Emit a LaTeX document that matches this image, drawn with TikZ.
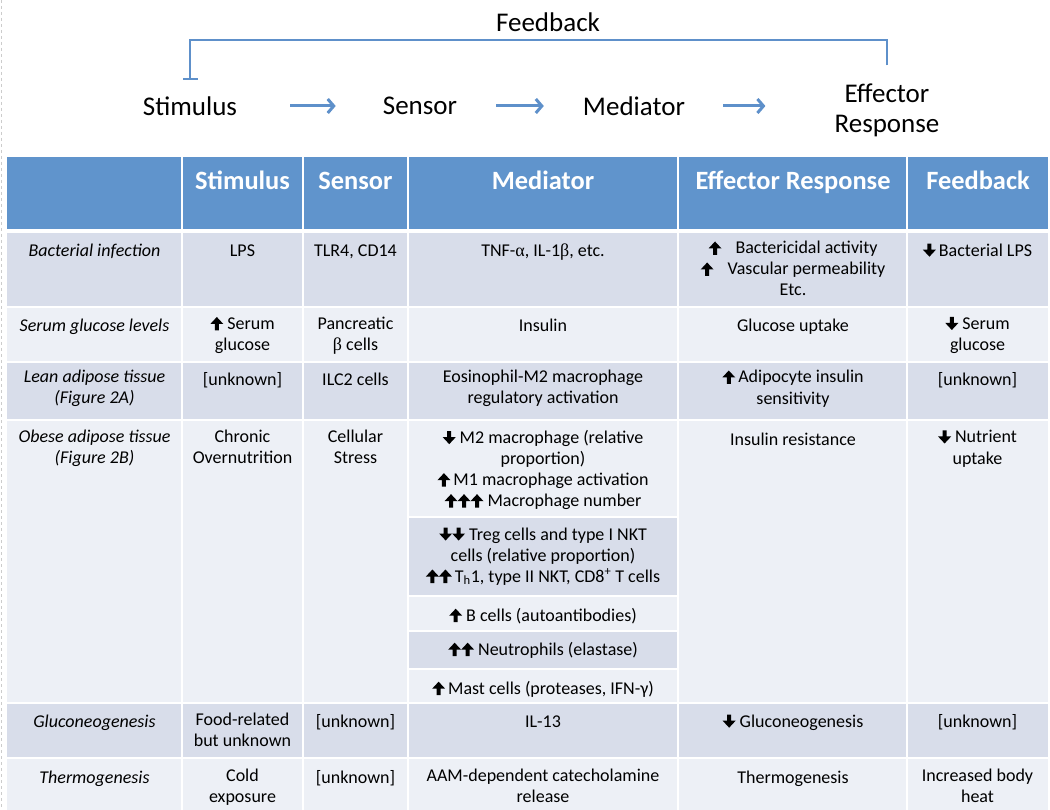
\documentclass[tikz,border=0pt]{standalone}
\usepackage{fontspec}
\setmainfont{Carlito}
\newfontfamily\grk{Liberation Serif}
\usetikzlibrary{arrows.meta}

\definecolor{headblue}{RGB}{96,148,204}
\definecolor{banddark}{RGB}{216,221,234}
\definecolor{bandlight}{RGB}{237,240,246}
\definecolor{flowblue}{RGB}{94,144,202}

% bold up / down arrows used inside the cells
\newcommand{\upa}{\tikz[x=1pt,y=1pt,baseline=0pt]\fill (-2,-1) rectangle (2,6) (-6.5,5.5) -- (0,12.5) -- (6.5,5.5) -- cycle;}
\newcommand{\dna}{\tikz[x=1pt,y=1pt,baseline=0pt]\fill (-2,12.5) rectangle (2,6) (-6.5,6.5) -- (0,-0.5) -- (6.5,6.5) -- cycle;}

\begin{document}
\begin{tikzpicture}[x=1pt, y=-1pt, every node/.style={inner sep=0pt},
    flow/.style={font=\fontsize{27}{30}\selectfont, align=center},
    link/.style={flowblue, line width=3pt, -{Straight Barb[length=6pt,width=14pt]}},
    fback/.style={flowblue, line width=2.6pt, -{Bar[width=15pt]}},
    head/.style={text=white, font=\fontsize{26.4}{30}\selectfont\bfseries, anchor=base},
    cell/.style={font=\fontsize{18}{21}\selectfont, align=center, anchor=north, execute at begin node=\strut},
    rowname/.style={cell, font=\fontsize{18}{21}\selectfont\itshape},
    gap/.style={white, line width=2pt}]
  \useasboundingbox (0,0) rectangle (1050,810);
  \draw [gray!40, dashed, line width=1pt] (1.5,0) -- (1.5,810);

  % loop at the top
  \node [flow] (fbtext) at (548,22) {Feedback};
  \node [flow] (stim) at (190,106) {Stimulus};
  \node [flow] (sens) at (420,106) {Sensor};
  \node [flow] (medi) at (634,106) {Mediator};
  \node [flow] (effr) at (887,110) {Effector\\Response};
  \coordinate (fbmid) at (540,40);
  \draw [link, shorten <=53pt, shorten >=47pt] (stim) -- (sens);
  \draw [link, shorten <=39pt, shorten >=39pt] (sens) -- (medi);
  \draw [link, shorten <=38pt, shorten >=69pt] (medi) -- (effr.west |- medi);
  \draw [fback, shorten <=18pt, shorten >=16pt] (effr.north) |- (fbmid) -| (stim.north);

  % table background
  \fill [headblue] (7,157) rectangle (1048,229);
  \fill [banddark] (7,233) rectangle (1048,307);
  \fill [bandlight] (7,307) rectangle (1048,362);
  \fill [banddark] (7,362) rectangle (1048,420);
  \fill [bandlight] (7,420) rectangle (1048,703);
  \fill [banddark] (408,517) rectangle (678,596);
  \fill [banddark] (408,631) rectangle (678,669);
  \fill [banddark] (7,703) rectangle (1048,758);
  \fill [bandlight] (7,758) rectangle (1048,810);
  \foreach \y in {307,362,420,703,758}
    \draw [gap] (7,\y) -- (1048,\y);
  \foreach \y in {517,596,631,669}
    \draw [gap] (408,\y) -- (678,\y);
  \foreach \x in {182,303,408,678,907}
    \draw [gap] (\x,157) -- (\x,810);

  % header
  \node [head] (hstim) at (242.5,189.5) {Stimulus};
  \node [head] (hsens) at (355.5,189.5) {Sensor};
  \node [head] (hmedi) at (543,189.5) {Mediator};
  \node [head] (heffr) at (793,189.5) {Effector Response};
  \node [head] (hfeed) at (978,189.5) {Feedback};

  % bacterial infection
  \node [rowname] (bact) at (94.5,241.3) {Bacterial infection};
  \node [cell] (bact2) at (242.5,241.3) {LPS};
  \node [cell] (bact3) at (355.5,241.3) {TLR4, CD14};
  \node [cell] (bact4) at (543,241.3) {TNF-{\grk α}, IL-1{\grk β}, etc.};
  \node [cell] (bact5) at (793,241.3) {\upa\hspace{14pt}Bactericidal activity\\\upa\hspace{14pt}Vascular permeability\\Etc.};
  \node [cell] (bact6) at (977.5,241.3) {\dna\hspace{3pt}Bacterial LPS};

  % serum glucose
  \node [rowname] (gluc) at (94.5,316.8) {Serum glucose levels};
  \node [cell] (gluc2) at (242.5,316.8) {\upa\hspace{4pt}Serum\\glucose};
  \node [cell] (gluc3) at (355.5,316.8) {Pancreatic\\{\grk β} cells};
  \node [cell] (gluc4) at (543,316.8) {Insulin};
  \node [cell] (gluc5) at (793,316.8) {Glucose uptake};
  \node [cell] (gluc6) at (977.5,316.8) {\dna\hspace{4pt}Serum\\glucose};

  % lean adipose tissue
  \node [rowname] (lean) at (94.5,370.3) {Lean adipose tissue\\(Figure 2A)};
  \node [cell] (lean2) at (242.5,370.3) {[unknown]};
  \node [cell] (lean3) at (355.5,370.3) {ILC2 cells};
  \node [cell] (lean4) at (543,370.3) {Eosinophil-M2 macrophage\\regulatory activation};
  \node [cell] (lean5) at (793,370.3) {\upa\hspace{3pt}Adipocyte insulin\\sensitivity};
  \node [cell] (lean6) at (977.5,370.3) {[unknown]};

  % obese adipose tissue
  \node [rowname] (obes) at (94.5,430.3) {Obese adipose tissue\\(Figure 2B)};
  \node [cell] (obes2) at (242.5,430.3) {Chronic\\Overnutrition};
  \node [cell] (obes3) at (355.5,430.3) {Cellular\\Stress};
  \node [cell] (obes4a) at (543,430.3) {\dna\hspace{4pt}M2 macrophage (relative\\proportion)\\\upa\hspace{3pt}M1 macrophage activation\\\upa\upa\upa\hspace{4pt}Macrophage number};
  \node [cell] (obes4b) at (543,527.3) {\dna\dna\hspace{4pt}Treg cells and type I NKT\\cells (relative proportion)\\\upa\upa\hspace{3pt}T\textsubscript{h}1, type II NKT, CD8\textsuperscript{+} T cells};
  \node [cell] (obes4c) at (543,606.3) {\upa\hspace{4pt}B cells (autoantibodies)};
  \node [cell] (obes4d) at (543,640.3) {\upa\upa\hspace{4pt}Neutrophils (elastase)};
  \node [cell] (obes4e) at (543,679.3) {\upa\hspace{3pt}Mast cells (proteases, IFN-γ)};
  \node [cell] (obes5) at (793,430.3) {Insulin resistance};
  \node [cell] (obes6) at (977.5,430.3) {\dna\hspace{4pt}Nutrient\\uptake};

  % gluconeogenesis
  \node [rowname] (gneo) at (94.5,712.3) {Gluconeogenesis};
  \node [cell] (gneo2) at (242.5,712.3) {Food-related\\but unknown};
  \node [cell] (gneo3) at (355.5,712.3) {[unknown]};
  \node [cell] (gneo4) at (543,712.3) {IL-13};
  \node [cell] (gneo5) at (793,712.3) {\dna\hspace{4pt}Gluconeogenesis};
  \node [cell] (gneo6) at (977.5,712.3) {[unknown]};

  % thermogenesis
  \node [rowname] (therm) at (94.5,768.3) {Thermogenesis};
  \node [cell] (therm2) at (242.5,768.3) {Cold\\exposure};
  \node [cell] (therm3) at (355.5,768.3) {[unknown]};
  \node [cell] (therm4) at (543,768.3) {AAM-dependent catecholamine\\release};
  \node [cell] (therm5) at (793,768.3) {Thermogenesis};
  \node [cell] (therm6) at (977.5,768.3) {Increased body\\heat};
\end{tikzpicture}
\end{document}
